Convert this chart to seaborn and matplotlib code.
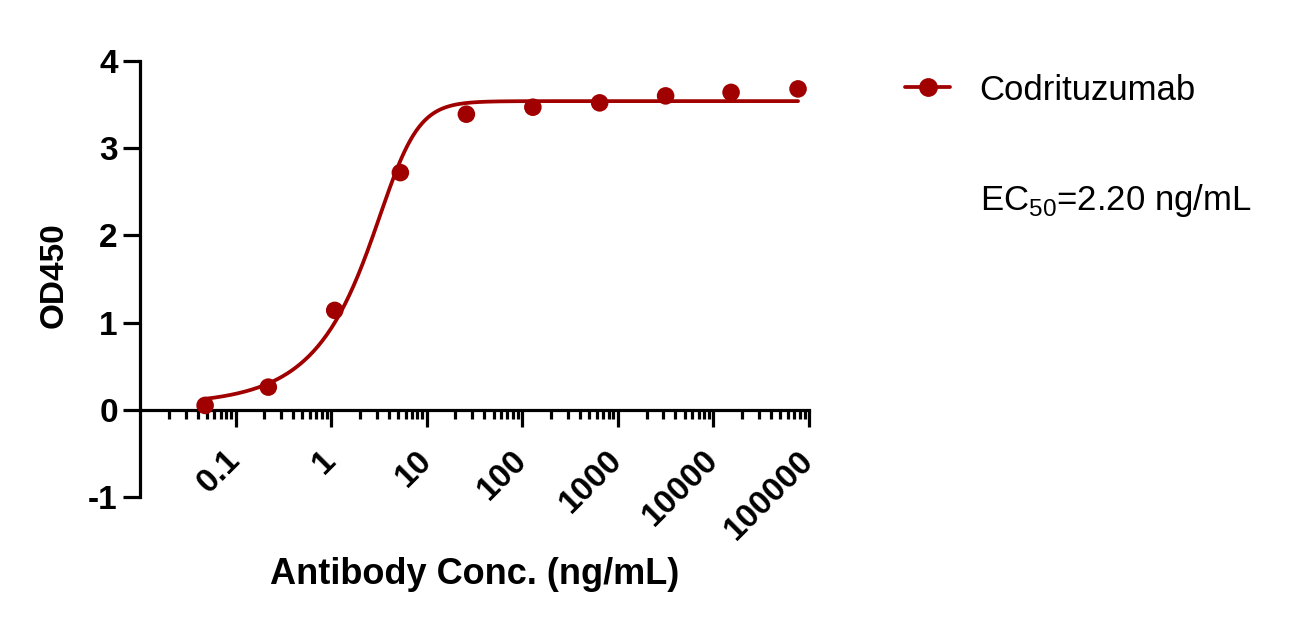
import numpy as np
import pandas as pd
import matplotlib
matplotlib.use('Agg')
import matplotlib.pyplot as plt
import seaborn as sns
from matplotlib.lines import Line2D
from matplotlib.ticker import LogLocator, NullFormatter, FixedLocator

# dados
conc = [0.048, 0.22, 1.09, 5.3, 26, 129, 645, 3160, 15300, 76800]
od450 = [0.05, 0.26, 1.14, 2.72, 3.39, 3.47, 3.52, 3.60, 3.64, 3.68]
serie = 'Codrituzumab'
ec50_texto = r'EC$_{\mathregular{50}}$=2.20 ng/mL'
xticks = [0.1, 1, 10, 100, 1000, 10000, 100000]
xtick_labels = ['0.1', '1', '10', '100', '1000', '10000', '100000']
yticks = [-1, 0, 1, 2, 3, 4]

# parametros do ajuste (5PL) que desenha a curva
fit_bottom = 0.06
fit_top = 3.54
fit_c = 5.0
fit_hill = 2.44
fit_s = 0.35

cor = '#A00000'

sns.set_style('ticks')
plt.rcParams['font.family'] = ['Liberation Sans', 'DejaVu Sans']
plt.rcParams['axes.unicode_minus'] = False
plt.rcParams['text.color'] = 'black'
plt.rcParams['axes.labelcolor'] = 'black'
plt.rcParams['xtick.color'] = 'black'
plt.rcParams['ytick.color'] = 'black'

df = pd.DataFrame({'Conc': conc, 'OD450': od450})

x_fit = np.logspace(np.log10(conc[0]), np.log10(conc[-1]), 400)
y_fit = fit_bottom + (fit_top - fit_bottom) / (1 + (fit_c / x_fit) ** fit_hill) ** fit_s
df_fit = pd.DataFrame({'Conc': x_fit, 'OD450': y_fit})

fig = plt.figure(figsize=(12.96, 6.23), dpi=100)
ax = fig.add_axes([140 / 1296, 1 - 497 / 623, 669 / 1296, 436 / 623])

sns.lineplot(data=df_fit, x='Conc', y='OD450', ax=ax, color=cor, lw=2.7, zorder=3)
sns.scatterplot(data=df, x='Conc', y='OD450', ax=ax, color=cor, s=160,
                edgecolor='none', zorder=4, clip_on=False)

ax.set_xscale('log')
ax.set_xlim(0.01, 100000)
ax.set_ylim(-1, 4)

# eixo x cruza em y=0
sns.despine(ax=ax)
ax.spines['bottom'].set_position(('data', 0))
for lado in ['left', 'bottom']:
    ax.spines[lado].set_linewidth(2.3)
    ax.spines[lado].set_color('black')

ax.xaxis.set_major_locator(FixedLocator(xticks))
ax.set_xticklabels(xtick_labels)
ax.xaxis.set_minor_locator(LogLocator(base=10, subs=np.arange(2, 10), numticks=20))
ax.xaxis.set_minor_formatter(NullFormatter())
ax.set_yticks(yticks)

ax.tick_params(axis='both', which='major', length=12, width=2.3, color='black',
               labelsize=24, labelcolor='black')
ax.tick_params(axis='x', which='minor', length=6.5, width=2.3, color='black')
ax.tick_params(axis='y', which='major', pad=4)
ax.tick_params(axis='x', which='major', pad=21)

for lab in ax.get_xticklabels():
    lab.set_rotation(45)
    lab.set_ha('right')
    lab.set_va('center')
    lab.set_rotation_mode('anchor')
    lab.set_fontweight('bold')
for lab in ax.get_yticklabels():
    lab.set_fontweight('bold')

ax.set_xlabel('Antibody Conc. (ng/mL)', fontsize=26, fontweight='bold')
ax.set_ylabel('OD450', fontsize=24, fontweight='bold')
ax.xaxis.set_label_coords(0.5, -0.137)
ax.yaxis.set_label_coords(-0.105, 0.51)

# legenda
handle = Line2D([], [], color=cor, lw=2.7, marker='o', markersize=12.5)
fig.legend([handle], [serie], loc='center left', bbox_to_anchor=(905 / 1296, 1 - 90 / 623),
           frameon=False, fontsize=25, handlelength=1.3, handletextpad=0.85,
           borderpad=0, borderaxespad=0, labelcolor='black')

fig.text(980 / 1296, 1 - 200 / 623, ec50_texto, fontsize=25, va='center', ha='left',
         color='black')

fig.savefig('out.png', dpi=100)
